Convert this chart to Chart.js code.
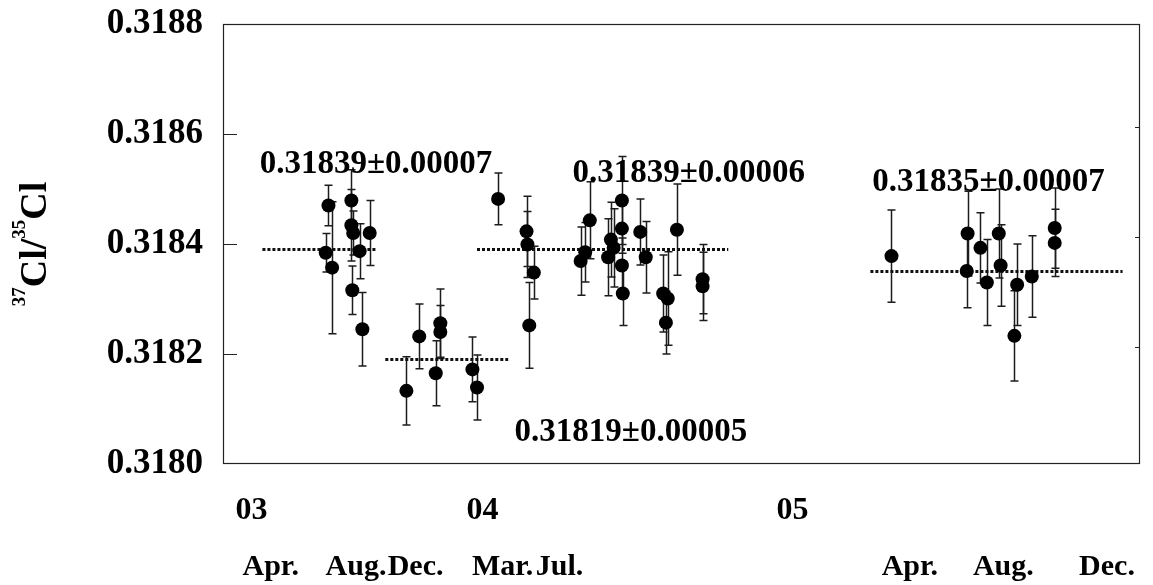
<!DOCTYPE html>
<html>
<head>
<meta charset="utf-8">
<script src="https://cdn.jsdelivr.net/npm/chart.js@4/dist/chart.umd.min.js"></script>
<style>
  html, body { margin: 0; padding: 0; background: #fff; }
  canvas { display: block; }
</style>
</head>
<body>
<canvas id="chart" width="1153" height="585"></canvas>
<script>
// Sampling position along the time axis (arbitrary units, 0-100)
const sampleX = [
  11.2, 11.5, 11.9, 14.0, 14.0, 14.2, 14.9, 14.1, 15.2, 16.0,
  20.0, 21.4, 23.2, 23.7, 23.7, 27.2, 27.7,
  30.0, 33.1, 33.2, 33.9, 33.4, 39.0, 39.5, 40.0, 42.0, 42.3, 42.6,
  43.5, 43.5, 43.5, 43.6, 45.5, 46.1, 48.0, 48.5, 48.3, 49.5, 52.3, 52.3,
  72.9, 81.2, 81.1, 82.6, 83.3, 84.6, 84.8, 86.3, 86.6, 88.2, 90.7, 90.7
];
// 37Cl/35Cl ratio of each sample
const ratio = [
  0.318384, 0.318470, 0.318357, 0.318479, 0.318434, 0.318420, 0.318387, 0.318316, 0.318245, 0.318420,
  0.318133, 0.318232, 0.318165, 0.318256, 0.318240, 0.318172, 0.318139,
  0.318482, 0.318423, 0.318399, 0.318348, 0.318252, 0.318369, 0.318385, 0.318443, 0.318376, 0.318408, 0.318393,
  0.318479, 0.318428, 0.318361, 0.318310, 0.318422, 0.318376, 0.318310, 0.318301, 0.318257, 0.318426, 0.318336, 0.318323,
  0.318378, 0.318419, 0.318351, 0.318393, 0.318330, 0.318419, 0.318361, 0.318233, 0.318326, 0.318341, 0.318429, 0.318402
];
// Measurement uncertainty (one sigma)
const ratioErr = [
  0.000035, 0.000037, 0.000120, 0.000056, 0.000065, 0.000040, 0.000050, 0.000044, 0.000067, 0.000059,
  0.000062, 0.000059, 0.000059, 0.000062, 0.000048, 0.000059, 0.000059,
  0.000047, 0.000064, 0.000060, 0.000048, 0.000078, 0.000062, 0.000054, 0.000070, 0.000070, 0.000068, 0.000071,
  0.000080, 0.000045, 0.000050, 0.000058, 0.000060, 0.000065, 0.000070, 0.000085, 0.000057, 0.000083, 0.000063, 0.000062,
  0.000084, 0.000077, 0.000067, 0.000064, 0.000078, 0.000081, 0.000074, 0.000082, 0.000074, 0.000074, 0.000073, 0.000061
];

// Period means and their spread
const meanValue = [0.31839, 0.31819, 0.31839, 0.31835];
const meanSd    = [0.00007, 0.00005, 0.00006, 0.00007];
const meanFrom  = [4.3, 17.7, 27.7, 70.6];
const meanTo    = [16.7, 31.1, 55.1, 98.1];

// Axis ticks
const yearLabels  = ['03', '04', '05'];
const yearAt      = [3.1, 28.3, 62.1];
const monthLabels = ['Apr.', 'Aug.', 'Dec.', 'Mar.', 'Jul.', 'Apr.', 'Aug.', 'Dec.'];
const monthAt     = [5.2, 14.5, 21.0, 30.5, 36.7, 74.9, 85.1, 96.4];
const yTicks      = [0.3180, 0.3182, 0.3184, 0.3186, 0.3188];

// Where each mean label sits (axis units: x, text baseline), same order as meanValue
const notePlace = [[4.0, 0.318530], [31.8, 0.318042], [38.1, 0.318512], [70.8, 0.318497]];

const FONT = "'Liberation Serif', 'Times New Roman', serif";
const INK = '#111';

// Vertical error bars with caps, under the points
const errorBars = {
  id: 'errorBars',
  beforeDatasetsDraw(chart) {
    const { ctx, scales: { x, y } } = chart;
    ctx.save();
    ctx.strokeStyle = '#1c1c1c';
    ctx.lineWidth = 1.5;
    sampleX.forEach((sx, i) => {
      const px = Math.round(x.getPixelForValue(sx)) + 0.5;
      const top = y.getPixelForValue(ratio[i] + ratioErr[i]);
      const bot = y.getPixelForValue(ratio[i] - ratioErr[i]);
      ctx.beginPath();
      ctx.moveTo(px, top); ctx.lineTo(px, bot);
      ctx.moveTo(px - 4, top); ctx.lineTo(px + 4, top);
      ctx.moveTo(px - 4, bot); ctx.lineTo(px + 4, bot);
      ctx.stroke();
    });
    ctx.restore();
  }
};

// Plot frame with short inward tick marks on both sides
const frame = {
  id: 'frame',
  beforeDatasetsDraw(chart) {
    const { ctx, chartArea: a, scales: { y } } = chart;
    ctx.save();
    ctx.strokeStyle = '#222';
    ctx.lineWidth = 1.2;
    ctx.strokeRect(a.left + 0.5, a.top + 0.5, a.right - a.left - 1, a.bottom - a.top - 1);
    ctx.beginPath();
    yTicks.slice(1, -1).forEach(v => {
      const py = Math.round(y.getPixelForValue(v)) + 0.5;
      ctx.moveTo(a.left, py); ctx.lineTo(a.left + 14, py);
      ctx.moveTo(a.right - 5, py - 7); ctx.lineTo(a.right, py - 7);
    });
    ctx.stroke();
    ctx.restore();
  }
};

// Mean ± spread labels for each period
const meanNotes = {
  id: 'meanNotes',
  afterDatasetsDraw(chart) {
    const { ctx, scales: { x, y } } = chart;
    ctx.save();
    ctx.fillStyle = '#000';
    ctx.font = `bold 33px ${FONT}`;
    ctx.textAlign = 'left';
    ctx.textBaseline = 'alphabetic';
    meanValue.forEach((m, i) => {
      const text = m.toFixed(5) + '±' + meanSd[i].toFixed(5);
      ctx.fillText(text, x.getPixelForValue(notePlace[i][0]), y.getPixelForValue(notePlace[i][1]));
    });
    ctx.restore();
  }
};

// Rotated y-axis title with superscript mass numbers
const yTitle = {
  id: 'yTitle',
  afterDraw(chart) {
    const { ctx, chartArea: a } = chart;
    const parts = [
      { t: '37', sup: true }, { t: 'Cl/', sup: false },
      { t: '35', sup: true }, { t: 'Cl', sup: false }
    ];
    const big = `bold 38px ${FONT}`, small = `bold 19px ${FONT}`;
    ctx.save();
    let total = 0;
    parts.forEach(p => { ctx.font = p.sup ? small : big; p.w = ctx.measureText(p.t).width; total += p.w; });
    ctx.translate(46, (a.top + a.bottom) / 2);
    ctx.rotate(-Math.PI / 2);
    ctx.fillStyle = '#000';
    ctx.textBaseline = 'alphabetic';
    ctx.textAlign = 'left';
    let u = -total / 2;
    parts.forEach(p => {
      ctx.font = p.sup ? small : big;
      ctx.fillText(p.t, u, p.sup ? -21 : 0);
      u += p.w;
    });
    ctx.restore();
  }
};

const points = sampleX.map((sx, i) => ({ x: sx, y: ratio[i] }));
const meanSets = meanValue.map((m, i) => ({
  data: [{ x: meanFrom[i], y: m }, { x: meanTo[i], y: m }],
  showLine: true,
  borderColor: INK,
  borderWidth: 3,
  borderDash: [3, 2],
  pointRadius: 0,
  order: 2
}));

new Chart(document.getElementById('chart'), {
  type: 'scatter',
  data: {
    datasets: [
      {
        data: points,
        pointRadius: 7,
        pointHoverRadius: 7,
        backgroundColor: '#000',
        borderWidth: 0,
        order: 1
      },
      ...meanSets
    ]
  },
  options: {
    responsive: false,
    animation: false,
    devicePixelRatio: 1,
    layout: { padding: { left: 0, right: 13, top: 24, bottom: 3 } },
    plugins: { legend: { display: false }, tooltip: { enabled: false } },
    scales: {
      x: {
        type: 'linear', position: 'bottom', weight: 0,
        min: 0, max: 100,
        grid: { display: false, drawTicks: true, tickLength: 31 },
        border: { display: false },
        afterBuildTicks: s => { s.ticks = yearAt.map(v => ({ value: v })); },
        ticks: {
          autoSkip: false, maxRotation: 0, padding: 0, color: '#000',
          font: { family: FONT, size: 32, weight: 'bold', lineHeight: 1 },
          callback: (v, i) => yearLabels[i]
        }
      },
      x2: {
        type: 'linear', position: 'bottom', axis: 'x', weight: 1,
        min: 0, max: 100,
        grid: { display: false, drawTicks: true, tickLength: 25 },
        border: { display: false },
        afterBuildTicks: s => { s.ticks = monthAt.map(v => ({ value: v })); },
        ticks: {
          autoSkip: false, maxRotation: 0, padding: 0, color: '#000',
          font: { family: FONT, size: 30, weight: 'bold', lineHeight: 1 },
          callback: (v, i) => monthLabels[i]
        }
      },
      y: {
        type: 'linear', position: 'left',
        min: 0.3180, max: 0.3188,
        grid: { display: false, drawTicks: true, tickLength: 20 },
        border: { display: false },
        afterBuildTicks: s => { s.ticks = yTicks.map(v => ({ value: v })); },
        afterFit: s => { s.width = 223; },
        ticks: {
          padding: 0, color: '#000',
          font: { family: FONT, size: 35, weight: 'bold' },
          callback: v => v.toFixed(4)
        }
      }
    }
  },
  plugins: [frame, errorBars, meanNotes, yTitle]
});
</script>
</body>
</html>
